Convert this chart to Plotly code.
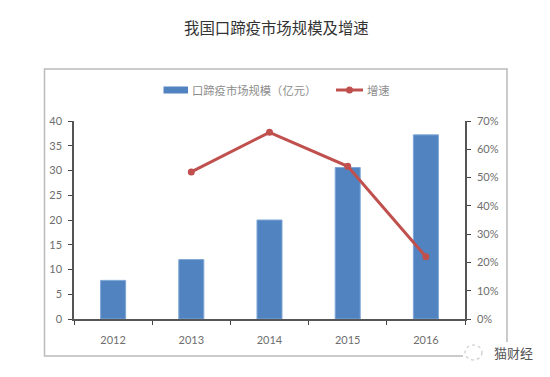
import plotly.graph_objects as go

years = ["2012", "2013", "2014", "2015", "2016"]
market_size = [7.8, 12, 20, 30.6, 37.2]
growth_pct = [None, 52, 66, 54, 22]
bar_label = "口蹄疫市场规模\uff08亿元\uff09"
line_label = "增速"

W, H = 550, 377
L, R, T, B = 74, 465, 121, 319
PAGE = 8  # the page's own margin shifts the figure

fx = lambda x: (x - L) / (R - L)
fy = lambda y: (B - y) / (B - T)

fig = go.Figure()
fig.add_bar(x=years, y=market_size, name=bar_label, width=0.32,
            marker=dict(color="#5083C0", line=dict(color="#7FA6D6", width=1)))
fig.add_scatter(x=years, y=growth_pct, name=line_label, yaxis="y2", mode="lines+markers",
                line=dict(color="#C0504D", width=3), marker=dict(color="#C0504D", size=7))

tickfont = dict(family="Lato, sans-serif", size=11, color="#6E6E6E")
legfont = dict(family="Noto Sans CJK SC", size=11.3, color="#8C8C8C")
fig.update_layout(
    width=W, height=H, autosize=False,
    margin=dict(l=L - PAGE, r=W - R + PAGE, t=T - PAGE, b=H - B + PAGE),
    paper_bgcolor="white", plot_bgcolor="white",
    font=dict(family="Noto Sans CJK SC"),
    showlegend=False,
    xaxis=dict(type="category", tickson="boundaries", ticks="outside", ticklen=4, tickcolor="#444444",
               showline=True, linecolor="#555555", linewidth=1.5, showgrid=False, tickfont=tickfont,
               ticklabelstandoff=10),
    yaxis=dict(range=[0, 40], dtick=5, ticks="outside", ticklen=4, tickcolor="#444444",
               showline=True, linecolor="#555555", linewidth=1.5, showgrid=False, zeroline=False,
               tickfont=tickfont, ticklabelstandoff=4),
    yaxis2=dict(range=[0, 70], dtick=10, overlaying="y", side="right", ticks="outside", ticklen=4,
                tickcolor="#444444", showline=True, linecolor="#555555", linewidth=1.5, showgrid=False,
                zeroline=False, ticksuffix="%", tickfont=tickfont, ticklabelstandoff=4),
    shapes=[
        dict(type="rect", xref="paper", yref="paper", layer="below",
             x0=fx(44.5), x1=fx(507), y0=fy(356), y1=fy(69),
             line=dict(color="#BBBBBB", width=1.5), fillcolor="white"),
        dict(type="rect", xref="paper", yref="paper",
             x0=fx(163.5), x1=fx(188), y0=fy(93.5), y1=fy(86.5),
             line=dict(width=0), fillcolor="#5083C0"),
        dict(type="line", xref="paper", yref="paper",
             x0=fx(336), x1=fx(363), y0=fy(90), y1=fy(90),
             line=dict(color="#C0504D", width=3)),
        dict(type="circle", xref="paper", yref="paper",
             x0=fx(346), x1=fx(353), y0=fy(93.5), y1=fy(86.5),
             line=dict(width=0), fillcolor="#C0504D"),
        dict(type="rect", xref="paper", yref="paper",
             x0=fx(463), x1=fx(540), y0=fy(362), y1=fy(342),
             line=dict(width=0), fillcolor="white"),
        dict(type="circle", xref="paper", yref="paper",
             x0=fx(465), x1=fx(482), y0=fy(360), y1=fy(345),
             line=dict(color="#CCCCCC", width=1.2, dash="dot"), fillcolor="white"),
    ],
    annotations=[
        dict(text="我国口蹄疫市场规模及增速", xref="paper", yref="paper",
             x=fx(276), y=fy(27), showarrow=False, xanchor="center", yanchor="middle",
             font=dict(family="Noto Sans CJK SC", size=15.4, color="#333333")),
        dict(text=bar_label, xref="paper", yref="paper",
             x=fx(191), y=fy(90), showarrow=False, xanchor="left", yanchor="middle", xshift=-1,
             font=legfont),
        dict(text=line_label, xref="paper", yref="paper",
             x=fx(366), y=fy(90), showarrow=False, xanchor="left", yanchor="middle", xshift=-1,
             font=legfont),
        dict(text="猫财经", xref="paper", yref="paper",
             x=fx(493), y=fy(352), showarrow=False, xanchor="left", yanchor="middle", xshift=-1,
             font=dict(family="Noto Sans CJK SC", size=13, color="#555555")),
    ],
)
fig.write_html("out.html")
